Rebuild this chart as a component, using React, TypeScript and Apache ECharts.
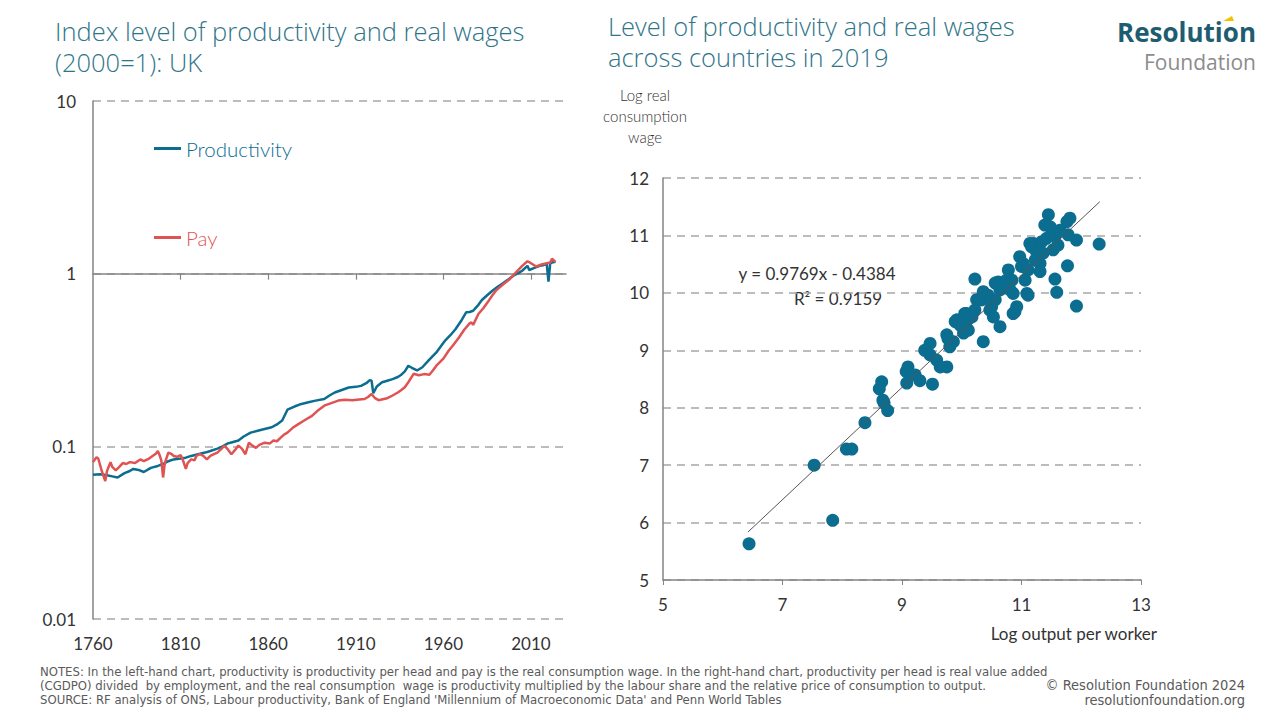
import React, { useEffect, useRef } from "react";
import * as echarts from "echarts";

// ---------- Left chart: UK index (2000=1), log scale ----------
const prodYears = [1760,1764,1768,1771,1774,1778,1781,1783,1786,1789,1793,1797,1800,1803,1806,1810,1813,1816,1820,1824,1827,1831,1834,1837,1840,1843,1846,1850,1854,1858,1862,1865,1868,1871,1875,1879,1883,1887,1892,1895,1898,1902,1906,1910,1913,1916,1918,1919,1920,1922,1925,1928,1931,1934,1936,1938,1940,1942,1945,1948,1952,1956,1959,1961,1964,1967,1970,1973,1975,1977,1980,1982,1985,1988,1991,1994,1997,2000,2003,2005,2008,2009,2012,2015,2017,2019,2020,2021,2022,2024];
const prodVals = [0.0685,0.069,0.068,0.067,0.066,0.070,0.072,0.074,0.073,0.071,0.075,0.077,0.079,0.082,0.084,0.085,0.086,0.088,0.090,0.092,0.094,0.097,0.100,0.104,0.106,0.108,0.114,0.120,0.123,0.126,0.129,0.134,0.141,0.163,0.170,0.176,0.180,0.184,0.188,0.197,0.205,0.212,0.219,0.221,0.224,0.232,0.242,0.240,0.203,0.222,0.235,0.240,0.245,0.252,0.260,0.272,0.293,0.285,0.275,0.287,0.318,0.350,0.385,0.410,0.440,0.478,0.530,0.597,0.600,0.610,0.660,0.704,0.750,0.797,0.840,0.879,0.925,0.974,1.01,1.04,1.11,1.05,1.08,1.11,1.12,1.14,0.90,1.15,1.16,1.17];

const payYears = [1760,1762,1763,1765,1767,1768,1770,1771,1773,1775,1777,1779,1781,1784,1787,1789,1792,1794,1796,1797,1798,1799,1800,1801,1803,1805,1806,1808,1810,1811,1813,1814,1816,1818,1819,1821,1823,1825,1827,1829,1831,1833,1835,1837,1839,1841,1843,1845,1847,1849,1851,1853,1855,1858,1861,1863,1865,1867,1869,1871,1874,1877,1881,1885,1888,1892,1896,1900,1904,1908,1912,1915,1917,1919,1921,1923,1926,1928,1931,1934,1936,1938,1940,1943,1946,1949,1952,1954,1956,1960,1963,1966,1969,1972,1975,1976,1977,1980,1983,1986,1988,1990,1994,1998,2002,2005,2008,2010,2013,2016,2019,2021,2022,2024];
const payVals = [0.081,0.0865,0.085,0.072,0.063,0.072,0.081,0.076,0.0725,0.076,0.080,0.079,0.081,0.080,0.084,0.082,0.085,0.088,0.091,0.094,0.089,0.083,0.066,0.080,0.092,0.090,0.088,0.087,0.089,0.085,0.074,0.080,0.084,0.083,0.088,0.090,0.088,0.084,0.088,0.090,0.092,0.096,0.101,0.096,0.090,0.095,0.101,0.097,0.090,0.105,0.101,0.098,0.102,0.105,0.104,0.108,0.107,0.112,0.117,0.120,0.128,0.134,0.142,0.150,0.160,0.172,0.178,0.184,0.186,0.185,0.187,0.188,0.193,0.201,0.190,0.185,0.188,0.190,0.197,0.205,0.212,0.220,0.235,0.263,0.258,0.262,0.260,0.275,0.293,0.322,0.358,0.390,0.428,0.475,0.515,0.522,0.505,0.584,0.635,0.700,0.750,0.797,0.865,0.932,1.03,1.11,1.18,1.15,1.10,1.13,1.15,1.16,1.22,1.17];

const leftYearLabels = [1760, 1810, 1860, 1910, 1960, 2010];
const leftYearTicks = [1810, 1860, 1910, 1960, 2010];
const leftYTickLabels = ["0.01", "0.1", "1", "10"];

// ---------- Right chart: countries 2019 ----------
const logOutput = [6.44,7.53,7.84,8.07,8.16,8.38,8.66,8.62,8.70,8.76,8.68,9.08,9.10,9.07,9.30,9.51,9.47,9.47,9.58,9.75,9.64,9.75,9.86,9.80,9.92,10.05,10.17,10.11,10.03,10.25,10.22,10.36,10.33,10.39,10.50,10.64,10.61,10.70,10.78,10.75,10.86,10.86,10.92,10.97,11.03,11.09,11.11,11.06,11.17,11.20,11.25,11.31,11.31,11.34,11.42,11.45,11.48,11.51,11.53,11.56,11.59,11.76,11.81,11.78,11.92,11.77,11.92,12.30,11.56,11.00,10.89,11.14,10.56,10.81,10.47,10.53,10.08,9.89,10.31,10.36,9.77,9.92,10.10,10.64,11.64,11.39,11.23,11.11,10.84,10.56,10.44,10.22,9.97,11.36,11.61,9.38,9.22];
const logWage = [5.63,7.00,6.04,7.28,7.28,7.74,8.45,8.33,8.08,7.95,8.13,8.43,8.71,8.63,8.47,8.41,8.92,9.12,8.83,8.71,8.71,9.27,9.15,9.06,9.50,9.64,9.58,9.35,9.30,9.88,10.24,9.15,9.88,9.96,9.76,9.41,10.19,10.11,10.40,10.22,9.99,9.64,9.76,10.63,10.51,9.99,9.96,10.22,10.80,10.86,10.72,10.51,10.37,10.89,10.95,11.36,11.15,11.04,10.75,10.24,10.01,11.24,11.30,11.01,10.92,10.47,9.77,10.85,10.98,10.46,9.67,10.86,10.17,10.05,9.70,9.58,9.64,9.50,9.88,10.02,9.20,9.53,9.53,10.05,11.09,11.18,10.57,10.40,10.22,9.88,9.96,9.70,9.44,10.69,10.83,9.00,8.57];

const trendSlope = 0.9769;
const trendIntercept = -0.4384;
const trendXRange = [6.42, 12.31];
const rSquared = 0.9159;

const leftTitle = ["Index level of productivity and real wages", "(2000=1): UK"];
const rightTitle = ["Level of productivity and real wages", "across countries in 2019"];
const yNameLines = ["Log real", "consumption", "wage"];
const notes = [
  "NOTES: In the left-hand chart, productivity is productivity per head and pay is the real consumption wage. In the right-hand chart, productivity per head is real value added",
  "(CGDPO) divided  by employment, and the real consumption  wage is productivity multiplied by the labour share and the relative price of consumption to output.",
  "SOURCE: RF analysis of ONS, Labour productivity, Bank of England 'Millennium of Macroeconomic Data' and Penn World Tables",
];

const BLUE = "#0b6d8f";
const RED = "#df5353";
const TITLE = "#2f7589";
const GRIDC = "#a6a6a6";
const AXISC = "#858585";
const FONT = "Lato, 'Open Sans', sans-serif";
const TFONT = "'Open Sans', Lato, sans-serif";
const NARROW = "'Liberation Sans Narrow', 'DejaVu Sans Condensed', sans-serif";

export default function App() {
  const ref = useRef<HTMLDivElement>(null);
  useEffect(() => {
    document.body.style.margin = "0";
    const chart = echarts.init(ref.current!, null, { renderer: "svg" });
    const labelStyle = { fontSize: 17, color: "#333", fontFamily: FONT };
    const txt = (x: number, y: number, text: string, s: any) => ({
      type: "text", x, y,
      style: { text, verticalAlign: "middle", fontFamily: FONT, ...s },
    });
    const option: any = {
      animation: false,
      textStyle: { fontFamily: FONT },
      grid: [
        { left: 93, top: 101, width: 473, height: 518 },
        { left: 663, top: 178, width: 478, height: 402 },
      ],
      xAxis: [
        {
          gridIndex: 0, type: "value", min: 1760, max: 2030, interval: 50,
          axisLine: { show: false }, axisTick: { show: false }, splitLine: { show: false },
          axisLabel: { ...labelStyle, margin: 16, customValues: leftYearLabels, formatter: (v: number) => String(v) },
        },
        {
          gridIndex: 0, type: "value", min: 1760, max: 2030, interval: 50,
          position: "top", offset: -518 / 3,
          axisLine: { show: true, lineStyle: { color: AXISC, width: 1.5 } },
          axisTick: { show: true, inside: true, length: 6, customValues: leftYearTicks, lineStyle: { color: AXISC, width: 1.2 } },
          axisLabel: { show: false }, splitLine: { show: false },
        },
        {
          gridIndex: 1, type: "value", min: 5, max: 13, interval: 2,
          axisLine: { show: true, lineStyle: { color: AXISC, width: 1.5 } },
          axisTick: { show: true, length: 5, lineStyle: { color: AXISC } },
          axisLabel: { ...labelStyle, margin: 16 }, splitLine: { show: false },
        },
      ],
      yAxis: [
        {
          gridIndex: 0, type: "log", logBase: 10, min: 0.01, max: 10,
          axisLine: { show: true, lineStyle: { color: AXISC, width: 1.5 } },
          axisTick: { show: false },
          splitLine: { show: true, lineStyle: { color: GRIDC, width: 1.5, type: [8, 6] } },
          axisLabel: {
            ...labelStyle, margin: 17,
            formatter: (v: number) => leftYTickLabels[Math.round(Math.log10(v)) + 2] ?? "",
          },
        },
        {
          gridIndex: 1, type: "value", min: 5, max: 12, interval: 1,
          axisLine: { show: true, lineStyle: { color: AXISC, width: 1.5 } },
          axisTick: { show: false },
          splitLine: { show: true, lineStyle: { color: GRIDC, width: 1.5, type: [8, 6] } },
          axisLabel: { ...labelStyle, margin: 14 },
        },
      ],
      legend: {
        left: 149, top: 133, orient: "vertical", itemGap: 68,
        icon: "rect", itemWidth: 27, itemHeight: 3,
        textStyle: { fontSize: 20.5, fontFamily: FONT, fontWeight: 300 },
        data: [
          { name: "Productivity", textStyle: { color: BLUE } },
          { name: "Pay", textStyle: { color: RED } },
        ],
      },
      series: [
        {
          name: "Productivity", type: "line", xAxisIndex: 0, yAxisIndex: 0,
          data: prodYears.map((y, i) => [y, prodVals[i]]),
          symbol: "none", lineStyle: { color: BLUE, width: 2.5 }, itemStyle: { color: BLUE },
        },
        {
          name: "Pay", type: "line", xAxisIndex: 0, yAxisIndex: 0,
          data: payYears.map((y, i) => [y, payVals[i]]),
          symbol: "none", lineStyle: { color: RED, width: 2.5 }, itemStyle: { color: RED },
        },
        {
          name: "Countries", type: "scatter", xAxisIndex: 2, yAxisIndex: 1,
          data: logOutput.map((x, i) => [x, logWage[i]]),
          symbolSize: 13, itemStyle: { color: BLUE, opacity: 1 }, z: 2,
        },
        {
          name: "Trend", type: "line", xAxisIndex: 2, yAxisIndex: 1,
          data: trendXRange.map((x) => [x, trendSlope * x + trendIntercept]),
          symbol: "none", lineStyle: { color: "#555", width: 1 }, z: 3,
        },
      ],
      graphic: [
        txt(55, 31, leftTitle[0], { fontSize: 25.5, fontWeight: 300, fill: TITLE, fontFamily: TFONT }),
        txt(55, 62, leftTitle[1], { fontSize: 25.5, fontWeight: 300, fill: TITLE, fontFamily: TFONT }),
        txt(608, 26, rightTitle[0], { fontSize: 25.5, fontWeight: 300, fill: TITLE, fontFamily: TFONT }),
        txt(608, 57, rightTitle[1], { fontSize: 25.5, fontWeight: 300, fill: TITLE, fontFamily: TFONT }),
        txt(1256, 32, "Resolution", { fontSize: 26, fontWeight: "bold", fill: "#1e5d71", align: "right", fontFamily: TFONT }),
        txt(1256, 62, "Foundation", { fontSize: 21, fill: "#8c8c8c", align: "right", fontFamily: TFONT }),
        { type: "polygon", shape: { points: [[1223, 21], [1232, 16], [1234, 21]] }, style: { fill: "#f2c400" } },
        txt(645, 95, yNameLines[0], { fontSize: 15, fontWeight: 300, fill: "#333", align: "center" }),
        txt(645, 116, yNameLines[1], { fontSize: 15, fontWeight: 300, fill: "#333", align: "center" }),
        txt(645, 137, yNameLines[2], { fontSize: 15, fontWeight: 300, fill: "#333", align: "center" }),
        txt(817, 273, `y = ${trendSlope}x - ${Math.abs(trendIntercept)}`, { fontSize: 17, fill: "#333", align: "center" }),
        txt(838, 298, `R² = ${rSquared}`, { fontSize: 17, fill: "#333", align: "center" }),
        txt(1157, 633, "Log output per worker", { fontSize: 17, fill: "#333", align: "right" }),
        txt(40, 671, notes[0], { fontSize: 13, fill: "#5a5a5a", fontFamily: NARROW }),
        txt(40, 685, notes[1], { fontSize: 13, fill: "#5a5a5a", fontFamily: NARROW }),
        txt(40, 699, notes[2], { fontSize: 13, fill: "#5a5a5a", fontFamily: NARROW }),
        txt(1245, 685, "© Resolution Foundation 2024", { fontSize: 14.5, fill: "#5a5a5a", align: "right", fontFamily: NARROW }),
        txt(1245, 700, "resolutionfoundation.org", { fontSize: 14.5, fill: "#5a5a5a", align: "right", fontFamily: NARROW }),
      ],
    };
    chart.setOption(option);
    return () => chart.dispose();
  }, []);
  return <div ref={ref} style={{ width: 1280, height: 720 }} />;
}
